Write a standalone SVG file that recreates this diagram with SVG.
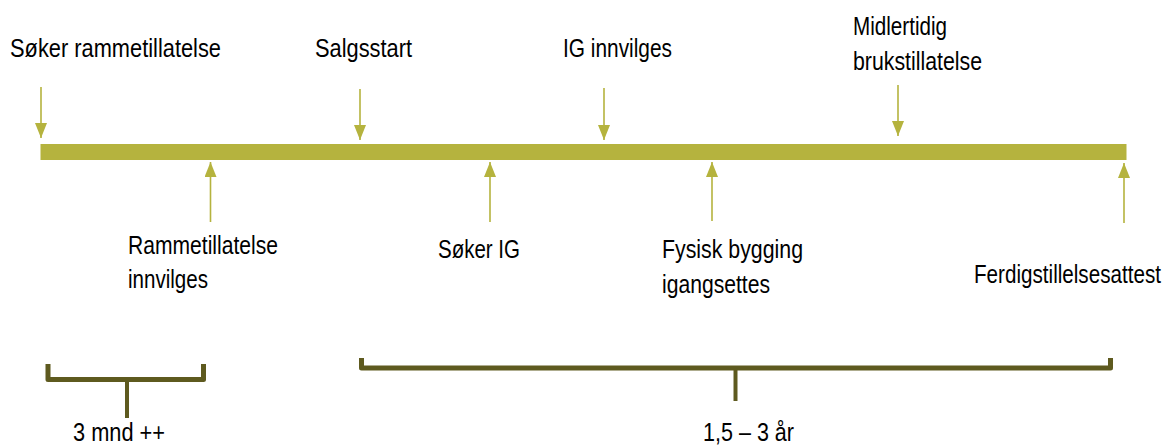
<svg xmlns="http://www.w3.org/2000/svg" width="1174" height="446" viewBox="0 0 1174 446">
<style>
text{font-family:"Liberation Sans",Arial,sans-serif;font-size:26px;fill:#000}
.arr{stroke:#b5b33e;stroke-width:1.6;fill:none;marker-end:url(#ah)}
.br{stroke:#5e5a1f;stroke-width:5;fill:none;stroke-linejoin:round}
.stem{stroke:#5e5a1f;stroke-width:4;fill:none}
</style>
<defs>
<marker id="ah" markerUnits="userSpaceOnUse" markerWidth="15" markerHeight="12" refX="15" refY="6" orient="auto">
<path d="M0,0 L15,6 L0,12 z" fill="#b5b33e"/>
</marker>
</defs>
<rect id="timeline" x="40.5" y="144" width="1086" height="16" fill="#b5b33e"/>
<g id="connectors">
<line class="arr" x1="41" y1="87" x2="41" y2="138"/>
<line class="arr" x1="360" y1="89" x2="360" y2="140"/>
<line class="arr" x1="604" y1="88" x2="604" y2="140"/>
<line class="arr" x1="898" y1="85" x2="898" y2="136"/>
<line class="arr" x1="210.5" y1="222" x2="210.5" y2="162"/>
<line class="arr" x1="490" y1="222" x2="490" y2="162"/>
<line class="arr" x1="712" y1="221" x2="712" y2="162"/>
<line class="arr" x1="1124" y1="223" x2="1124" y2="163"/>
</g>
<g id="n-soker-ramme"><text x="10" y="57" textLength="211" lengthAdjust="spacingAndGlyphs">Søker rammetillatelse</text></g>
<g id="n-salgsstart"><text x="315" y="57" textLength="97" lengthAdjust="spacingAndGlyphs">Salgsstart</text></g>
<g id="n-ig-innvilges"><text x="563" y="57" textLength="109" lengthAdjust="spacingAndGlyphs">IG innvilges</text></g>
<g id="n-midlertidig">
<text x="853" y="35" textLength="94" lengthAdjust="spacingAndGlyphs">Midlertidig</text>
<text x="853" y="70" textLength="129" lengthAdjust="spacingAndGlyphs">brukstillatelse</text>
</g>
<g id="n-ramme-innvilges">
<text x="128" y="254" textLength="150" lengthAdjust="spacingAndGlyphs">Rammetillatelse</text>
<text x="128" y="288" textLength="80" lengthAdjust="spacingAndGlyphs">innvilges</text>
</g>
<g id="n-soker-ig"><text x="438" y="258" textLength="82" lengthAdjust="spacingAndGlyphs">Søker IG</text></g>
<g id="n-fysisk">
<text x="662" y="258" textLength="141" lengthAdjust="spacingAndGlyphs">Fysisk bygging</text>
<text x="662" y="293" textLength="108" lengthAdjust="spacingAndGlyphs">igangsettes</text>
</g>
<g id="n-ferdig"><text transform="translate(974,283) scale(0.794,1)">Ferdigstillelsesattest</text></g>
<g id="n-bracket-short">
<path class="br" d="M48,364 L48,379.5 L203.5,379.5 L203.5,364"/>
<line class="stem" x1="127" y1="379" x2="127" y2="418"/>
<text x="73" y="441" textLength="92" lengthAdjust="spacingAndGlyphs">3 mnd ++</text>
</g>
<g id="n-bracket-long">
<path class="br" d="M361.5,358 L361.5,368 L1110.5,368 L1110.5,358"/>
<line class="stem" x1="735.5" y1="368" x2="735.5" y2="401"/>
<text x="703" y="441" textLength="91" lengthAdjust="spacingAndGlyphs">1,5 – 3 år</text>
</g>
</svg>
